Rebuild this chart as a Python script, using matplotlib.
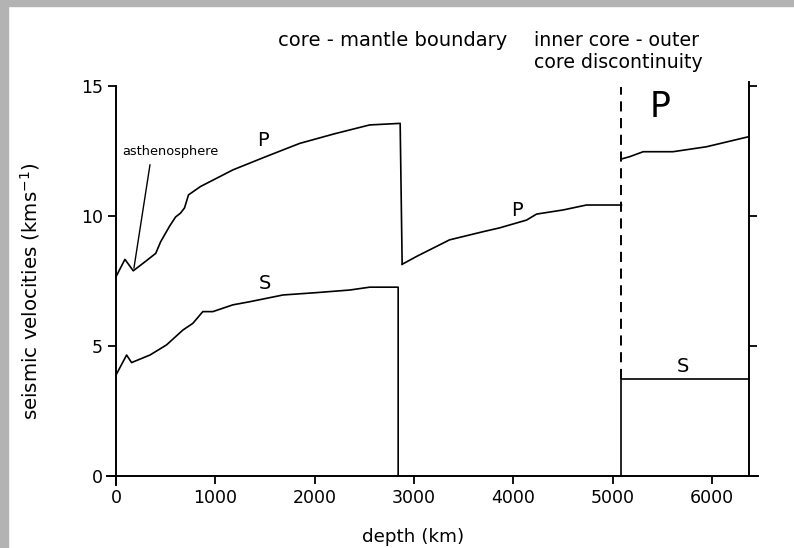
import matplotlib
matplotlib.use('Agg')
import matplotlib.pyplot as plt
from matplotlib.patches import Rectangle

# P wave, crust + mantle
p_mantle_depth = [0, 90, 174, 300, 400, 450, 540, 600, 650, 690, 730, 850,
                  1176, 1508, 1849, 2200, 2553, 2860, 2880]
p_mantle_vel = [7.65, 8.32, 7.88, 8.25, 8.55, 9.0, 9.6, 9.95, 10.1, 10.3,
                10.8, 11.12, 11.76, 12.27, 12.78, 13.15, 13.49, 13.55, 8.13]

# P wave, outer core
p_outer_depth = [2880, 3024, 3357, 3690, 3860, 4132, 4232, 4500, 4735, 5087]
p_outer_vel = [8.13, 8.43, 9.07, 9.38, 9.53, 9.83, 10.06, 10.22, 10.41, 10.41]

# P wave, inner core
p_inner_depth = [5087, 5171, 5306, 5606, 5942, 6371]
p_inner_vel = [12.18, 12.27, 12.46, 12.46, 12.65, 13.04]

# S wave, crust + mantle
s_mantle_depth = [0, 107, 157, 342, 509, 673, 774, 874, 975, 1176, 1346,
                  1681, 2017, 2352, 2553, 2840, 2840]
s_mantle_vel = [3.87, 4.64, 4.35, 4.64, 5.03, 5.60, 5.86, 6.31, 6.31, 6.57,
                6.69, 6.95, 7.04, 7.14, 7.25, 7.25, 0]

# S wave, inner core
s_inner_depth = [5087, 5087, 6371]
s_inner_vel = [0, 3.72, 3.72]

icb_depth = 5087
earth_radius = 6371

x_ticks = [0, 1000, 2000, 3000, 4000, 5000, 6000]
y_ticks = [0, 5, 10, 15]

plt.rcParams['font.family'] = ['DejaVu Sans']

fig = plt.figure(figsize=(7.94, 5.48), dpi=100)
fig.patches.append(Rectangle((0, 0), 8 / 794, 1, transform=fig.transFigure,
                             color='#b3b3b3', zorder=0))
fig.patches.append(Rectangle((0, 1 - 6 / 548), 1, 6 / 548,
                             transform=fig.transFigure, color='#b3b3b3', zorder=0))

ax = fig.add_axes([0.1348, 0.1130, 0.8197, 0.7449])
ax.set_xlim(-90, 6460)
ax.set_ylim(-0.4, 15.3)

lw = 1.2
ax.plot(p_mantle_depth, p_mantle_vel, color='black', lw=lw)
ax.plot(p_outer_depth, p_outer_vel, color='black', lw=lw)
ax.plot(p_inner_depth, p_inner_vel, color='black', lw=lw)
ax.plot(s_mantle_depth, s_mantle_vel, color='black', lw=lw)
ax.plot(s_inner_depth, s_inner_vel, color='black', lw=lw)
ax.plot([icb_depth, icb_depth], [3.72, 14.96], color='black', lw=1.4,
        dashes=[5.2, 3.4])

# asthenosphere pointer
ax.plot([181, 342], [7.99, 11.95], color='black', lw=1.0)
ax.text(60, 12.45, 'asthenosphere', fontsize=9.3, ha='left', va='center')

ax.text(1479, 12.9, 'P', fontsize=14, ha='center', va='center')
ax.text(1499, 7.40, 'S', fontsize=14, ha='center', va='center')
ax.text(4031, 10.21, 'P', fontsize=14, ha='center', va='center')
ax.text(5473, 14.19, 'P', fontsize=25, ha='center', va='center')
ax.text(5704, 4.19, 'S', fontsize=14, ha='center', va='center')

# spines
ax.spines['top'].set_visible(False)
ax.spines['left'].set_position(('data', 0))
ax.spines['left'].set_bounds(-0.35, 15)
ax.spines['right'].set_position(('data', earth_radius))
ax.spines['right'].set_bounds(0, 15.15)
ax.spines['bottom'].set_position(('data', 0))
ax.spines['bottom'].set_bounds(-90, 6460)
for s in ['left', 'right', 'bottom']:
    ax.spines[s].set_linewidth(1.4)

ax.set_xticks(x_ticks)
ax.set_yticks(y_ticks)
ax.tick_params(direction='out', length=6, width=1.3, labelsize=12.5, pad=3.5)
ax.tick_params(axis='y', right=True, labelright=False)

ax.set_xlabel('depth (km)', fontsize=13.2)
ax.xaxis.set_label_coords(0.470, -0.1027)
ax.set_ylabel('seismic velocities (kms$^{-1}$)', fontsize=14.2)
ax.yaxis.set_label_coords(-0.1, 0.478)

fig.text(393 / 794, 1 - 41 / 548, 'core - mantle boundary', fontsize=14,
         ha='center', va='center')
fig.text(534 / 794, 1 - 40 / 548, 'inner core - outer', fontsize=13.6,
         ha='left', va='center')
fig.text(534 / 794, 1 - 63 / 548, 'core discontinuity', fontsize=13.6,
         ha='left', va='center')

fig.savefig('out.png', dpi=100)
